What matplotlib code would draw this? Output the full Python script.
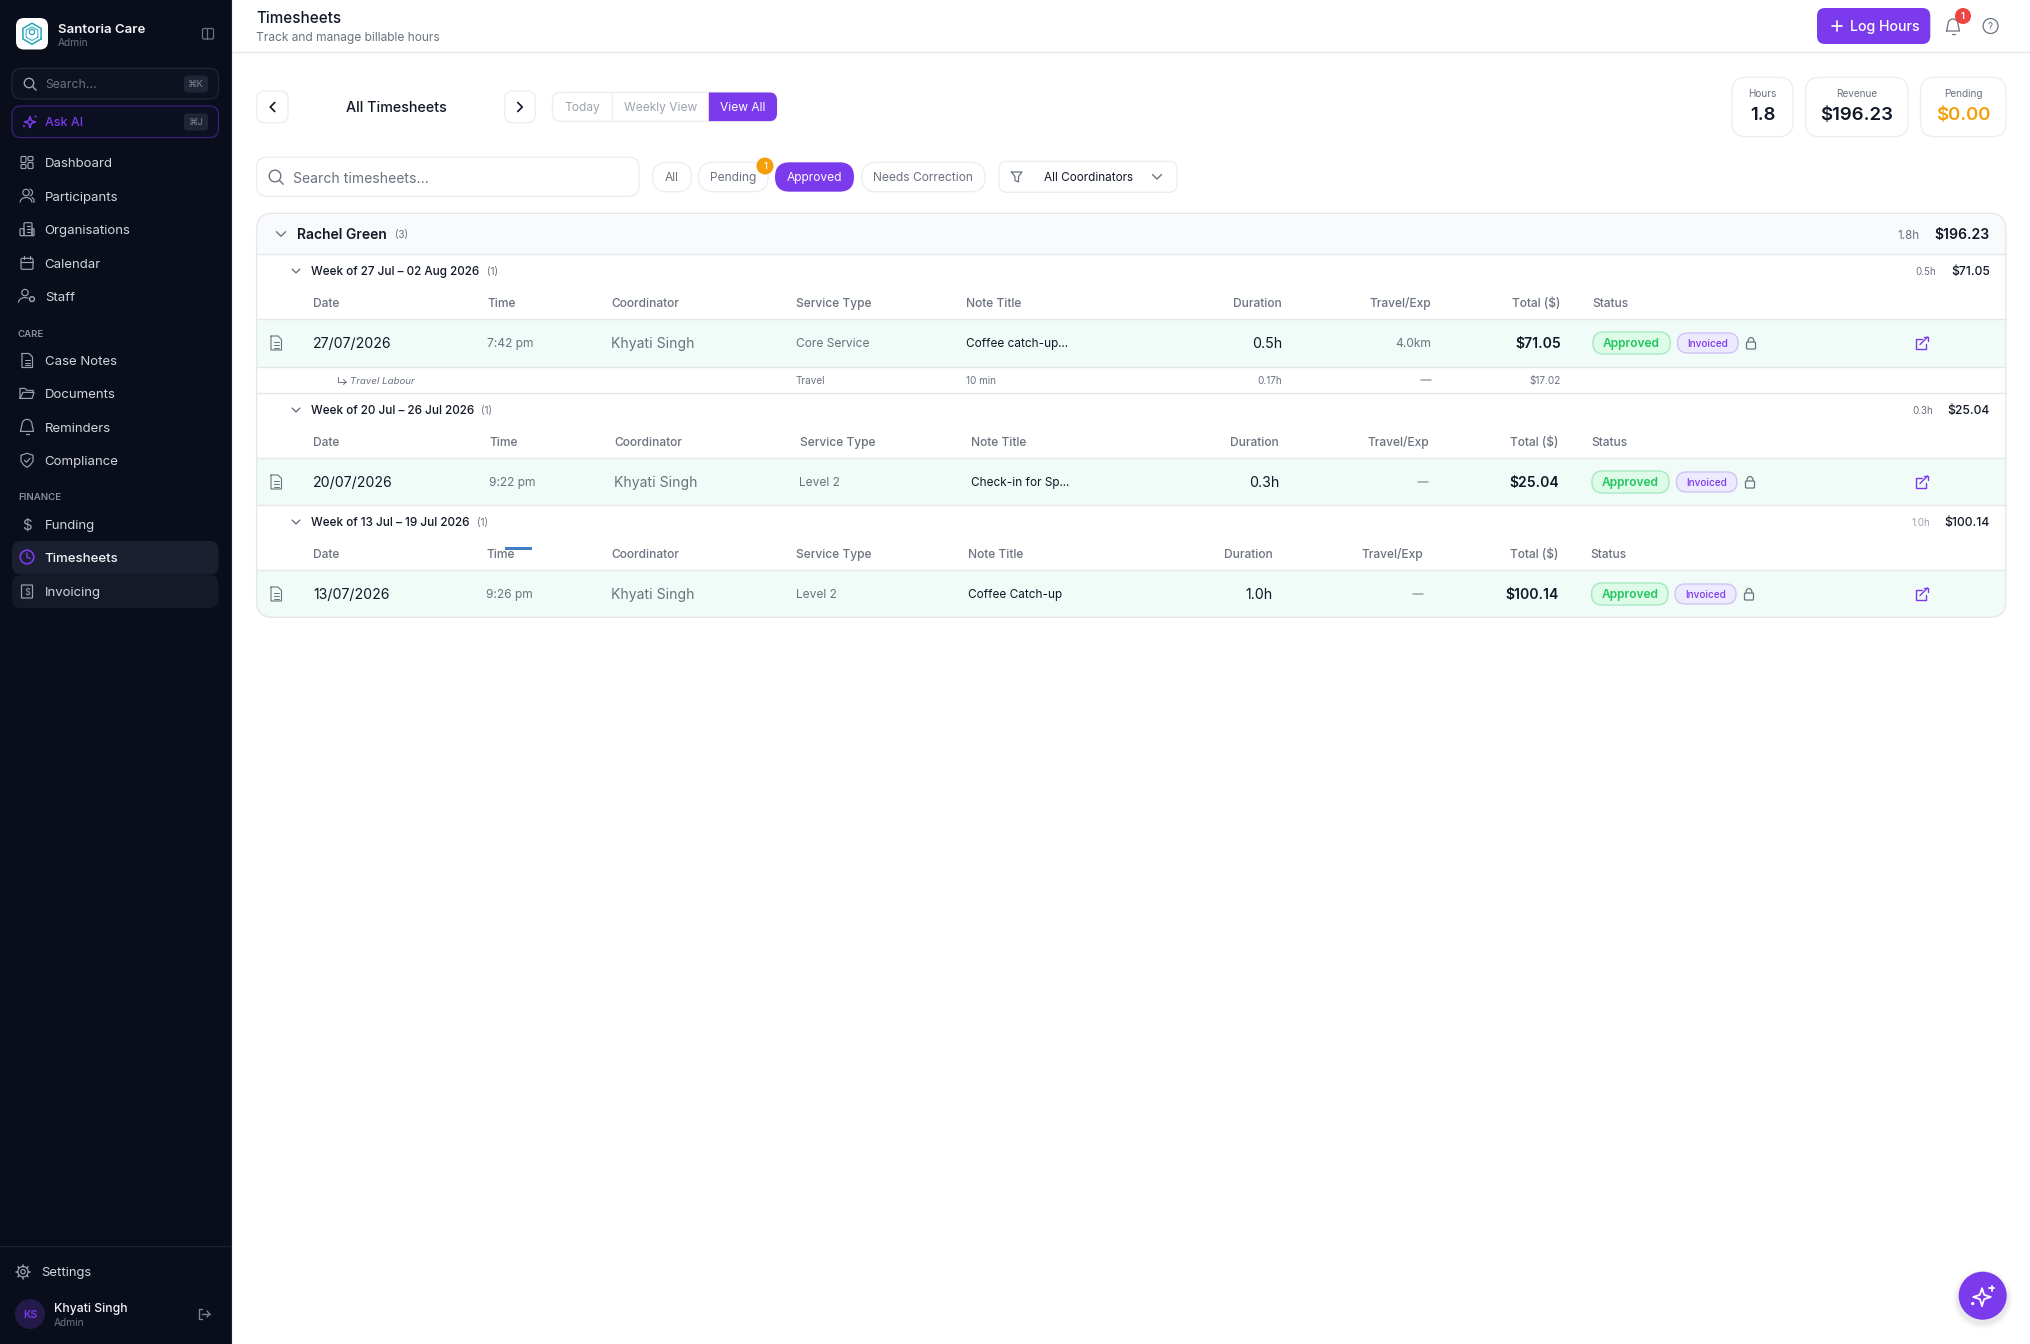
import numpy as np
import matplotlib
matplotlib.use("Agg")
import matplotlib.pyplot as plt
from matplotlib.patches import FancyBboxPatch, Circle, Rectangle, Arc

plt.rcParams['font.family'] = ['Inter', 'Noto Sans', 'DejaVu Sans']

# ---------- content ----------
brand = "Santoria Care"
role = "Admin"
nav_main = ["Dashboard", "Participants", "Organisations", "Calendar", "Staff"]
nav_care = ["Case Notes", "Documents", "Reminders", "Compliance"]
nav_finance = ["Funding", "Timesheets", "Invoicing"]
stat_labels = ["Hours", "Revenue", "Pending"]
stat_values = ["1.8", "$196.23", "$0.00"]
filters = ["All", "Pending", "Approved", "Needs Correction"]
views = ["Today", "Weekly View", "View All"]
columns = ["Date", "Time", "Coordinator", "Service Type", "Note Title",
           "Duration", "Travel/Exp", "Total ($)", "Status"]
week_titles = ["Week of 27 Jul – 02 Aug 2026", "Week of 20 Jul – 26 Jul 2026", "Week of 13 Jul – 19 Jul 2026"]
week_hours = ["0.5h", "0.3h", "1.0h"]
week_totals = ["$71.05", "$25.04", "$100.14"]
dates = ["27/07/2026", "20/07/2026", "13/07/2026"]
times = ["7:42 pm", "9:22 pm", "9:26 pm"]
coordinators = ["Khyati Singh", "Khyati Singh", "Khyati Singh"]
services = ["Core Service", "Level 2", "Level 2"]
notes = ["Coffee catch-up...", "Check-in for Sp...", "Coffee Catch-up"]
durations = ["0.5h", "0.3h", "1.0h"]
travel = ["4.0km", "—", "—"]
totals = ["$71.05", "$25.04", "$100.14"]

# ---------- palette ----------
SIDE = "#0a0e1a"; PURPLE = "#7c3aed"; INK = "#111827"; GRAY = "#6b7280"; LIGHT = "#9ca3af"
LINE = "#e5e7eb"; SOFT = "#eceef1"; ROW = "#f1fbf7"; NAVTXT = "#d1d5db"; NAVICON = "#9ca3af"

W, H = 2031, 1344
fig = plt.figure(figsize=(W / 100, H / 100), dpi=100, facecolor="white")
ax = fig.add_axes([0, 0, 1, 1])
ax.set_xlim(0, W); ax.set_ylim(H, 0); ax.axis("off")


def box(x0, y0, x1, y1, r=0, fc="none", ec="none", lw=1.0, z=2):
    p = FancyBboxPatch((x0, y0), x1 - x0, y1 - y0, boxstyle=f"round,pad=0,rounding_size={r}",
                       fc=fc, ec=ec, lw=lw, zorder=z)
    ax.add_patch(p)
    return p


def t(x, y, s, px=14, c=INK, ha="left", w="normal", **kw):
    return ax.text(x, y + px * 0.36, s, fontsize=px * 0.72, color=c, ha=ha, va="baseline",
                   fontweight=w, zorder=6, **kw)


def ln(xs, ys, c=GRAY, lw=1.0, z=5):
    ax.plot(xs, ys, color=c, lw=lw, zorder=z, solid_capstyle="round", solid_joinstyle="round")


def circ(x, y, r, fc="none", ec="none", lw=1.0, z=5, **kw):
    ax.add_patch(Circle((x, y), r, fc=fc, ec=ec, lw=lw, zorder=z, **kw))


def chev(x, y, d="down", s=4, c=GRAY, lw=1.0):
    if d == "down":
        ln([x - s, x, x + s], [y - s / 2, y + s / 2, y - s / 2], c, lw)
    elif d == "left":
        ln([x + s / 2, x - s / 2, x + s / 2], [y - s, y, y + s], c, lw)
    else:
        ln([x - s / 2, x + s / 2, x - s / 2], [y - s, y, y + s], c, lw)


def ic_search(x, y, c, s=5.0, lw=1.0):
    circ(x - 1, y - 1, s, ec=c, lw=lw)
    ln([x + s * 0.62, x + s + 1.5], [y + s * 0.62, y + s + 1.5], c, lw)


def ic_doc(x, y, c, lw=0.9):
    ln([x - 5, x + 2, x + 5.5, x + 5.5, x - 5, x - 5], [y - 7, y - 7, y - 3.5, y + 7, y + 7, y - 7], c, lw)
    for dy in (-1, 2, 4.5):
        ln([x - 2.5, x + 3], [y + dy, y + dy], c, lw * 0.9)


def ic_bell(x, y, c, lw=1.0):
    a = np.linspace(np.pi, 0, 20)
    xs = list(x + 5 * np.cos(a)); ys = list(y - 2 + 5 * -np.sin(a) * 1.0)
    ln([x - 6.5] + xs + [x + 6.5, x - 6.5], [y + 5] + ys + [y + 5, y + 5], c, lw)
    ln([x - 1.5, x + 1.5], [y + 8, y + 8], c, lw)


def ic_lock(x, y, c=GRAY):
    box(x - 4.5, y - 1, x + 4.5, y + 6, 1, ec=c, lw=0.9, z=5)
    a = np.linspace(np.pi, 0, 14)
    ln(x + 3 * np.cos(a), y - 1.5 - 4 * np.sin(a), c, 0.9)


def ic_ext(x, y, c=PURPLE):
    ln([x + 0, x - 5.5, x - 5.5, x + 4, x + 4], [y - 4, y - 4, y + 6, y + 6, y + 0.5], c, 1.0)
    ln([x - 1.5, x + 6], [y + 1.5, y - 6], c, 1.0)
    ln([x + 2, x + 6, x + 6], [y - 6, y - 6, y - 2], c, 1.0)


def ic_spark(x, y, c, k=1.0, lw=1.1, plus=False):
    r = 6.5 * k
    a = np.linspace(0, 2 * np.pi, 9)
    rr = np.array([r if i % 2 == 0 else r * 0.35 for i in range(9)])
    ln(x + rr * np.cos(a + np.pi / 2), y + rr * np.sin(a + np.pi / 2), c, lw)
    if plus:
        e = 2.0 * k
        ln([x + r - e + 1, x + r + e + 1], [y - r, y - r], c, lw)
        ln([x + r + 1, x + r + 1], [y - r - e, y - r + e], c, lw)
    else:
        circ(x + r, y - r, 1.2 * k, fc=c, z=5)
    circ(x - r - 0.5, y + r * 0.75, 1.2 * k, fc=c, z=5)


# ---------- sidebar ----------
ax.add_patch(Rectangle((0, 0), 231, H, fc=SIDE, ec="none", zorder=1))
ln([231.2, 231.2], [0, H], "#1c2230", 0.8, 1.5)
box(16, 18, 48, 49.5, 8, fc="white")
ang = np.radians(np.arange(30, 391, 60))
ln(32 + 10.5 * np.cos(ang), 33.7 + 10.5 * np.sin(ang), "#22a7b8", 1.1)
ln(32 + 6.8 * np.cos(ang), 33.7 + 6.8 * np.sin(ang), "#22a7b8", 0.7)
circ(32, 32, 2.6, ec="#22a7b8", lw=0.9)
t(58, 28.5, brand, 13.2, "#f3f4f6", w="semibold")
t(58, 42, role, 10.2, "#6b7280")
box(202.5, 28.5, 213.5, 39, 1.5, ec="#6b7280", lw=0.9)
ln([207, 207], [28.5, 39], "#6b7280", 0.9)
box(12, 68.4, 218.5, 99, 9, fc="#0d1220", ec="#1f2635", lw=0.9)
ic_search(30, 84, "#9ca3af", 4.7)
t(45, 84, "Search...", 12.3, "#6b7280")
box(184, 75.5, 208, 92.5, 3, fc="#1f2535")
t(196, 84, "⌘K", 9.5, "#7b8290", ha="center")
box(12, 106, 218.5, 137.6, 9, fc="#0d0f22", ec="#3b1f7a", lw=0.9)
ic_spark(30, 122, PURPLE, 0.85)
t(45, 122, "Ask AI", 12.5, PURPLE, w="medium")
box(184, 113.5, 208, 130.5, 3, fc="#1f2535")
t(196, 122, "⌘J", 9.5, "#7b8290", ha="center")

box(12, 541, 218.5, 574.5, 9, fc="#1a2030", z=1.6)
box(12, 575, 218.5, 608, 9, fc="#141a28", z=1.6)
nav_y_main = [162.5, 196.5, 229.7, 263.3, 296.6]
nav_y_care = [360.5, 393.4, 427.4, 460.3]
nav_y_fin = [524.3, 557, 591.5]
for s, y in zip(nav_main + nav_care + nav_finance, nav_y_main + nav_y_care + nav_y_fin):
    on = s == "Timesheets"
    t(44.7, y, s, 13.2, "#f3f4f6" if on else NAVTXT, w="medium" if on else "normal")
t(18, 333.3, "CARE", 9.6, "#8a919e", w="semibold")
t(18, 497, "FINANCE", 9.6, "#8a919e", w="semibold")

# nav icons
I = 27; C = NAVICON; L = 0.85
y = nav_y_main[0]
for a, b, c_, d in [(-6, -6, -1, 0), (1, -6, 6, -2), (1, 0, 6, 6), (-6, 2, -1, 6)]:
    box(I + a, y + b, I + c_, y + d, 1, ec=C, lw=L, z=5)
y = nav_y_main[1]
circ(I - 1, y - 4, 3.2, ec=C, lw=L)
ax.add_patch(Arc((I - 1, y + 6), 12, 10, theta1=180, theta2=360, ec=C, lw=L, zorder=5))
ax.add_patch(Arc((I + 2, y - 4), 7, 7, theta1=-80, theta2=80, ec=C, lw=L, zorder=5))
ln([I + 5, I + 7, I + 7], [y + 1, y + 3, y + 6], C, L)
y = nav_y_main[2]
box(I - 3, y - 7, I + 5, y + 6, 1, ec=C, lw=L, z=5)
box(I - 7, y - 1, I - 3, y + 6, 1, ec=C, lw=L, z=5)
box(I + 5, y - 1, I + 7, y + 6, 0.5, ec=C, lw=L, z=5)
for dy in (-4, -1, 2):
    ln([I - 0.5, I + 2.5], [y + dy, y + dy], C, L)
y = nav_y_main[3]
box(I - 6, y - 5, I + 6, y + 6, 1.5, ec=C, lw=L, z=5)
ln([I - 6, I + 6], [y - 1.5, y - 1.5], C, L)
ln([I - 3, I - 3], [y - 7, y - 4], C, L); ln([I + 3, I + 3], [y - 7, y - 4], C, L)
for dx in (-3, 0, 3):
    ln([I + dx, I + dx + 0.3], [y + 2.5, y + 2.5], C, 1.0)
y = nav_y_main[4]
circ(I - 2, y - 4, 3.2, ec=C, lw=L)
ax.add_patch(Arc((I - 2, y + 6), 13, 10, theta1=180, theta2=310, ec=C, lw=L, zorder=5))
circ(I + 5, y + 2.5, 2.4, ec=C, lw=L + 0.2)
ic_doc(I, nav_y_care[0], C, L)
y = nav_y_care[1]
ln([I - 7, I - 7, I - 2, I, I + 6, I + 6], [y + 5, y - 5, y - 5, y - 3, y - 3, y - 1], C, L)
ln([I - 7, I - 4, I + 7, I + 5, I - 7], [y + 5, y - 1, y - 1, y + 5, y + 5], C, L)
ic_bell(I, nav_y_care[2] - 1, C, L)
y = nav_y_care[3]
ln([I, I + 6, I + 6, I + 3, I, I - 3, I - 6, I - 6, I], [y - 7, y - 5, y + 1, y + 5, y + 7, y + 5, y + 1, y - 5, y - 7], C, L)
ln([I - 2.5, I - 0.5, I + 3], [y, y + 2, y - 2], C, L)
t(I, nav_y_fin[0], "$", 15, C, ha="center")
y = nav_y_fin[1]
circ(I, y, 6.8, ec=PURPLE, lw=1.2)
ln([I, I, I + 3], [y - 4, y, y + 1.5], PURPLE, 1.1)
y = nav_y_fin[2]
box(I - 5.5, y - 6.5, I + 5.5, y + 6.5, 0.5, ec=C, lw=L, z=5)
t(I, y, "$", 9, C, ha="center")

ln([0, 231], [1246, 1246], "#1c2230", 0.9)
gear = np.radians(np.arange(0, 361, 45))
for g in gear[:-1]:
    ln([23 + 5.2 * np.cos(g), 23 + 7 * np.cos(g)], [1271.7 + 5.2 * np.sin(g), 1271.7 + 7 * np.sin(g)], C, 1.1)
circ(23, 1271.7, 5.2, ec=C, lw=L)
circ(23, 1271.7, 2.2, ec=C, lw=L)
t(41, 1271.7, "Settings", 13, NAVTXT)
circ(30, 1314, 15, fc="#241a4a")
t(30, 1314.5, "KS", 10.5, PURPLE, ha="center", w="semibold")
t(54, 1308, "Khyati Singh", 12.2, "#f3f4f6", w="medium")
t(54, 1322, role, 10.2, "#6b7280")
ln([202, 199, 199, 202], [1309, 1309, 1319, 1319], "#7b8290", 1.0)
ln([202, 209.5], [1314, 1314], "#7b8290", 1.0)
ln([207, 209.5, 207], [1311, 1314, 1317], "#7b8290", 1.0)

# ---------- header ----------
ln([232, W], [52.3, 52.3], LINE, 1.0)
t(256, 17.5, "Timesheets", 15.2, INK, w="medium")
t(256, 37, "Track and manage billable hours", 12, GRAY)
box(1817, 8, 1930.3, 44, 8, fc=PURPLE)
ln([1832, 1842], [26, 26], "white", 1.2); ln([1837, 1837], [21, 31], "white", 1.2)
t(1850.5, 26, "Log Hours", 14.2, "white", w="medium")
ic_bell(1953, 26, GRAY, 0.9)
circ(1963, 16, 8, fc="#ef4444", z=5.5)
t(1963, 16, "1", 9.5, "white", ha="center", w="semibold")
circ(1990.6, 26, 7.5, ec=GRAY, lw=0.9)
t(1990.6, 26, "?", 10, GRAY, ha="center")

# ---------- date nav ----------
box(256.6, 91, 288, 122.7, 8, fc="white", ec=SOFT)
chev(272.5, 107, "left", 4.5, INK, 1.2)
t(396, 107, "All Timesheets", 14.3, INK, ha="center", w="medium")
box(504.7, 91, 535.3, 122.7, 8, fc="white", ec=SOFT)
chev(520, 107, "right", 4.5, INK, 1.2)
box(552.5, 92.3, 777, 121.3, 8, fc="white", ec=SOFT)
ln([612.4, 612.4], [92.3, 121.3], SOFT, 1.0)
sel = box(708.8, 92.3, 777, 121.3, 0, fc=PURPLE, z=2.5)
sel.set_clip_path(box(552.5, 92.3, 777, 121.3, 8))
for s, x, col in zip(views, [582.5, 660.5, 743], [LIGHT, LIGHT, "white"]):
    t(x, 106.8, s, 12, col, ha="center")

# ---------- stats ----------
stat_x = [(1732, 1793), (1805.5, 1908), (1920.5, 2006)]
stat_colors = [INK, INK, "#f59e0b"]
for (a, b), lab, val, col in zip(stat_x, stat_labels, stat_values, stat_colors):
    box(a, 77.3, b, 136.7, 14, fc="white", ec=SOFT)
    t((a + b) / 2, 93.7, lab, 10, GRAY, ha="center")
    t((a + b) / 2, 113.7, val, 18.6, col, ha="center", w="semibold")

# ---------- filters ----------
box(256.6, 157.3, 639, 196.3, 10, fc="white", ec=SOFT)
ic_search(276, 177, GRAY, 5.8)
t(293, 177.5, "Search timesheets...", 14, "#6b7280")
pill_x = [(652.6, 691.5), (698.5, 768), (775, 854), (861.8, 985)]
for s, (a, b) in zip(filters, pill_x):
    on = s == "Approved"
    box(a, 162.3, b, 191.7, 14.6, fc=PURPLE if on else "white", ec="none" if on else SOFT)
    t((a + b) / 2, 176.8, s, 12, "white" if on else GRAY, ha="center")
circ(765, 166, 8.5, fc="#f59e0b", z=5.5)
t(765, 166, "1", 9.5, "white", ha="center", w="medium")
box(999, 161.3, 1177, 192.3, 8, fc="white", ec=SOFT)
ln([1011.5, 1022, 1018.5, 1018.5, 1015, 1015, 1011.5], [172, 172, 176.5, 182, 180.5, 176.5, 172], GRAY, 0.9)
t(1043.6, 176.8, "All Coordinators", 11.7, INK)
chev(1157, 176.8, "down", 4.5, GRAY)

# ---------- table card ----------
R = 2005.8
card = box(256.6, 213.3, R, 617.3, 16, fc="white", ec="none", z=2)
outline = box(256.6, 213.3, R, 617.3, 16, fc="none", ec=LINE, lw=1.0, z=4)
head = ax.add_patch(Rectangle((256.6, 213.3), R - 256.6, 41, fc="#f9fafb", ec="none", zorder=2.2))
head.set_clip_path(card)
ln([257, R], [254.3, 254.3], LINE, 1.0)
chev(281, 234, "down", 4.5, GRAY)
t(297.4, 234, "Rachel Green", 13.9, INK, w="semibold")
t(395.5, 234.5, "(3)", 9.8, GRAY)
t(1919.7, 234.3, "1.8h", 11.7, GRAY, ha="right")
t(1989.6, 234.3, "$196.23", 14, INK, ha="right", w="semibold")

week_y = [271, 410, 522]
week_hours_right = [1936.6, 1933, 1929.8]
week_count_x = [487, 480.5, 477]
head_y = [303, 442, 554]
head_line = [319.3, 458.3, 570.3]
row_bottom = [366.7, 505.3, 617.3]
row_y = [343, 482, 594]
col_left = [(312.8, 487, 611.8, 795.5, 966.5), (313, 489.5, 614.5, 799.5, 971), (313, 486.5, 611.2, 796.5, 968)]
val_left = [(312.8, 487, 611.2, 796, 966.5), (313, 489, 614.5, 799, 971), (313, 486, 611.2, 796.2, 968)]
col_right = [(1282, 1431.6, 1560.4), (1279, 1429, 1558.4), (1273, 1423.6, 1558.4)]
status_left = [1592.5, 1591, 1590.5]
appr = [(1593, 1670.3), (1592, 1669), (1591.6, 1668)]
invd = [(1677.5, 1738.2), (1676.4, 1737), (1675, 1736)]
lock_x = [1751, 1750, 1749]

for i in range(3):
    wy = week_y[i]
    chev(296, wy, "down", 3.8, GRAY)
    t(311, wy, week_titles[i], 11.7, INK, w="medium")
    t(week_count_x[i], wy + 0.5, "(1)", 9.8, GRAY)
    t(week_hours_right[i], wy + 0.5, week_hours[i], 9.8, LIGHT if i == 2 else GRAY, ha="right")
    t(1990, wy, week_totals[i], 12.2, INK, ha="right", w="medium")
    for s, x in zip(columns[:5], col_left[i]):
        t(x, head_y[i], s, 12, GRAY, w="medium")
    for s, x in zip(columns[5:8], col_right[i]):
        t(x, head_y[i], s, 12, GRAY, ha="right", w="medium")
    t(status_left[i], head_y[i], columns[8], 12, GRAY, w="medium")
    ln([257, R], [head_line[i], head_line[i]], LINE, 1.0)
    r = ax.add_patch(Rectangle((256.6, head_line[i]), R - 256.6, row_bottom[i] - head_line[i], fc=ROW, ec="none", zorder=2.2))
    r.set_clip_path(card)
    if i < 2:
        ln([257, R], [row_bottom[i], row_bottom[i]], LINE, 1.0)
    y = row_y[i]
    ic_doc(276, y, GRAY, 0.8)
    vl = val_left[i]
    t(vl[0], y, dates[i], 14.1, INK)
    t(vl[1], y, times[i], 12, GRAY)
    t(vl[2], y, coordinators[i], 14, GRAY)
    t(vl[3], y, services[i], 12, GRAY)
    t(vl[4], y, notes[i], 11.8, INK)
    cr = col_right[i]
    t(cr[0], y, durations[i], 14.2, INK, ha="right")
    if travel[i] == "—":
        ln([cr[1] - 11, cr[1] - 1], [y, y], LIGHT, 1.1)
    else:
        t(cr[1], y, travel[i], 12, GRAY, ha="right")
    t(cr[2] + 0.5, y, totals[i], 14, INK, ha="right", w="semibold")
    a, b = appr[i]
    box(a, y - 11, b, y + 11, 10.5, fc="#dcfce7", ec="#a7e9c3", lw=1.0, z=3)
    t((a + b) / 2, y, "Approved", 12, "#22c55e", ha="center", w="semibold")
    a, b = invd[i]
    box(a, y - 10, b, y + 10, 10, fc="#ede9fe", ec="#cfc4f5", lw=1.0, z=3)
    t((a + b) / 2, y + 0.5, "Invoiced", 10, PURPLE, ha="center", w="medium")
    ic_lock(lock_x[i], y)
    ic_ext(1921.5, y)

# travel sub-row
ln([257, R], [393.3, 393.3], LINE, 1.0)
ln([338, 338, 346], [376.5, 382, 382], GRAY, 0.7)
ln([343.5, 346, 343.5], [379.5, 382, 384.5], GRAY, 0.7)
t(350, 380.3, "Travel Labour", 9.7, GRAY, style="italic")
t(796, 380.3, "Travel", 10, GRAY)
t(966, 380.3, "10 min", 10, GRAY)
t(1282, 380.3, "0.17h", 10, GRAY, ha="right")
ln([1421, 1431], [380.3, 380.3], LIGHT, 1.1)
t(1560.7, 380.3, "$17.02", 10, GRAY, ha="right")

# resize marker over the third header
ax.add_patch(Rectangle((505, 546.8), 27, 2.8, fc="#3f7fc1", ec="none", zorder=7))

# floating action button
for rr, al in [(30, 0.02), (28, 0.03), (26, 0.04)]:
    circ(1982.7, 1299, rr, fc="#000000", z=4.5, alpha=al)
circ(1982.7, 1295.7, 24, fc=PURPLE, z=5)
ic_spark(1982, 1297, "white", 1.35, 1.3, plus=True)

fig.savefig("out.png", dpi=100, facecolor="white")
